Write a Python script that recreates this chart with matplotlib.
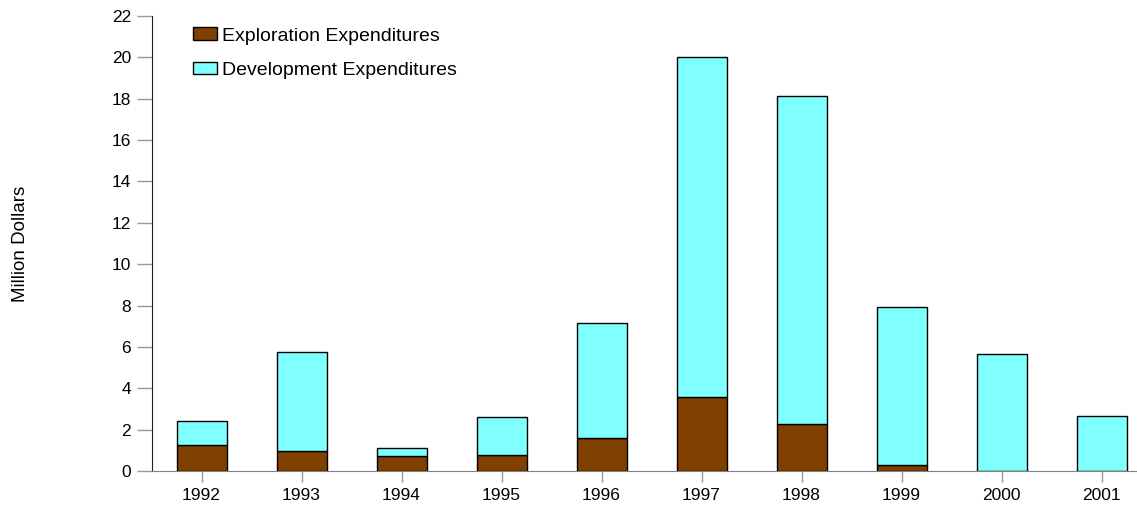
import numpy as np
import matplotlib
matplotlib.use("Agg")
import matplotlib.pyplot as plt

# Datos (millones de dólares)
anios = ["1992", "1993", "1994", "1995", "1996", "1997", "1998", "1999", "2000", "2001"]
exploracion = [1.26, 0.99, 0.73, 0.79, 1.60, 3.56, 2.26, 0.28, 0.0, 0.0]
desarrollo = [1.18, 4.77, 0.38, 1.81, 5.57, 16.44, 15.86, 7.63, 5.64, 2.67]
y_ticks = [0, 2, 4, 6, 8, 10, 12, 14, 16, 18, 20, 22]

plt.rcParams['font.family'] = ['Liberation Sans', 'DejaVu Sans']

fig = plt.figure(figsize=(11.37, 5.15), dpi=100)
ax = fig.add_axes([152 / 1137, 44 / 515, 985 / 1137, 455 / 515])

x = np.arange(len(anios))
ax.bar(x, exploracion, width=0.5, color='#804000', edgecolor='black', linewidth=1,
       label='Exploration Expenditures', zorder=3)
ax.bar(x, desarrollo, width=0.5, bottom=exploracion, color='#80FFFF', edgecolor='black',
       linewidth=1, label='Development Expenditures', zorder=3)

ax.set_xlim(-0.495, 9.355)
ax.set_ylim(0, 22)
ax.set_yticks(y_ticks)
ax.set_xticks(x)
ax.set_xticklabels(anios)

for lado in ['top', 'right']:
    ax.spines[lado].set_visible(False)
ax.spines['left'].set_color('#222222')
ax.spines['bottom'].set_color('#808080')
ax.spines['bottom'].set_zorder(4)

ax.tick_params(axis='y', length=11, width=1, color='#999999', pad=4, labelsize=12.5)
ax.tick_params(axis='x', length=8, width=1, color='#999999', pad=4, labelsize=12.5)

ax.set_ylabel('Million Dollars', fontsize=13.5, labelpad=0)
ax.yaxis.set_label_coords(-152 / 985 + 29 / 985, 0.5)

ax.legend(loc='upper left', bbox_to_anchor=(0.0416, 0.975), frameon=False, fontsize=14,
          handlelength=1.25, handleheight=0.62, handletextpad=0.25, labelspacing=0.88,
          borderpad=0, borderaxespad=0)

fig.savefig('out.png', dpi=100)
